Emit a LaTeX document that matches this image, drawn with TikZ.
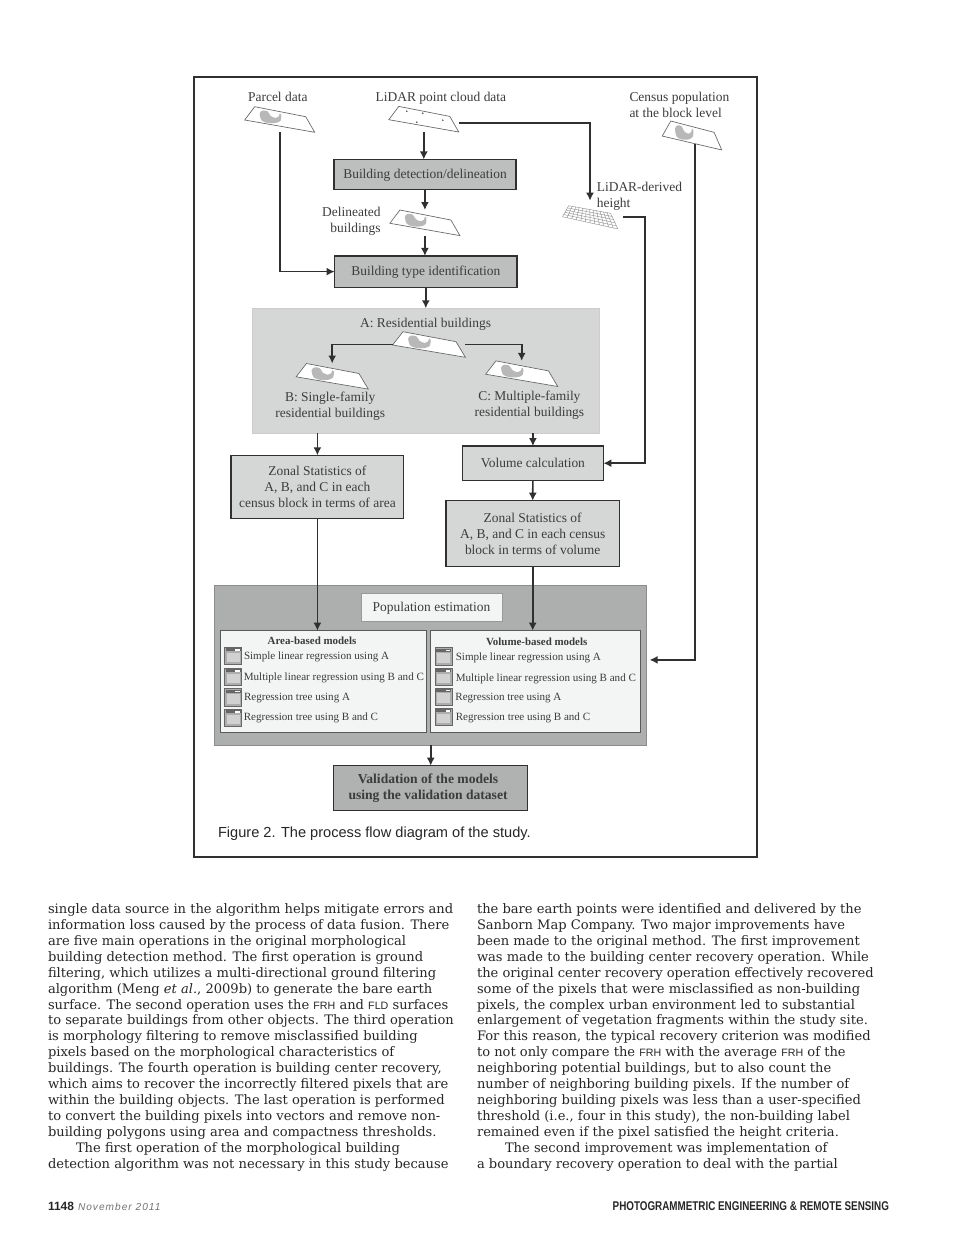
\documentclass[tikz,border=0pt]{standalone}
\usepackage{fontspec}
\setmainfont{Liberation Serif}
\newfontfamily\capfont{Liberation Sans}
\newfontfamily\datefont[LetterSpace=10]{Liberation Sans}
\newfontfamily\bodyfont{DejaVu Serif}
\usetikzlibrary{arrows.meta,calc}
\definecolor{inkgray}{HTML}{303030}
\definecolor{textgray}{HTML}{3C3C3C}
\definecolor{midbox}{HTML}{BDBFBF}
\definecolor{lightbox}{HTML}{D5D7D7}
\definecolor{darkpanel}{HTML}{ADAFAF}
\definecolor{palebox}{HTML}{F3F5F5}
\definecolor{valbox}{HTML}{B0B1B1}
\newcommand{\smallcp}[1]{{\fontsize{8}{12}\capfont #1}}
\newcommand{\sheetoutline}{\filldraw[fill=white, draw=black!60, line width=0.5pt] (-35,0.5) -- (-25,-12.8) -- (26,-2.8) -- (35,12.8) -- cycle;}
\begin{document}
\begin{tikzpicture}[x=0.75pt,y=-0.75pt]
    \tikzstyle{every node}=[inner sep=0pt, outer sep=0pt, text=textgray, font=\fontsize{10.1}{12}\selectfont, align=center]
    \tikzstyle{oneline}=[text height=8pt, text depth=2.1pt]
    \tikzstyle{procbox}=[rectangle, draw=inkgray, line width=1pt, fill=midbox]
    \tikzstyle{zonebox}=[procbox, fill=lightbox]
    \tikzstyle{modelbox}=[rectangle, draw=black!65, line width=0.8pt, fill=palebox]
    \tikzstyle{modeltext}=[anchor=west, yshift=-1pt, font=\fontsize{8.3}{10}\selectfont]
    \tikzstyle{edge}=[inkgray, line width=1.25pt, -{Latex[length=6pt,width=6pt]}]

    \fill[white] (0,0) rectangle (960,1245);
    \draw[inkgray, line width=1.1pt] (194,77) rectangle (757,857);

    % grey panels first
    \node[rectangle, fill=lightbox, draw=black!20, minimum width=260.5pt, minimum height=93.75pt] (respanel) at (426,370.8) {};
    \node[rectangle, fill=darkpanel, draw=black!45, minimum width=323.7pt, minimum height=119.7pt] (poppanel) at (430.2,665.5) {};

    % sheets
    \foreach \nm/\cx/\cy/\sx/\sy in {parcel/279.7/119.5/1/1, census/692/135.5/0.85/1.13,
            delin/424.9/222.8/1/1, resid/429/344.5/1.04/1, single/332.2/376.3/1.03/1, multi/521.7/373.7/1.03/1} {
        \node[minimum width=52.5pt*\sx, minimum height=19.2pt*\sy] (\nm) at (\cx,\cy) {};
        \begin{scope}[shift={(\cx,\cy)}, xscale=\sx, yscale=\sy]
            \sheetoutline
            \fill[black!28] plot[smooth cycle] coordinates {(-20,-6) (-17,-9) (-12,-8) (-9,-3.5) (-4,-1.5) (-1,-3) (0,-6) (1.5,-5) (1,1) (-4,3.5) (-12,3.5) (-18,1)};
        \end{scope}
    }
    % the point cloud sheet has dots, not a parcel
    \node[minimum width=52.5pt, minimum height=19.2pt] (lidar) at (423.8,119.2) {};
    \begin{scope}[shift={(lidar.center)}]
        \sheetoutline
        \foreach \dx/\dy in {-17/-8, -1/-6, -7/3, 19/1} \fill[black!80] (\dx,\dy) circle (0.6pt);
    \end{scope}

    % height raster
    \node[minimum width=41.5pt, minimum height=17.5pt] (raster) at (590,217) {};
    \coordinate (rasa) at (562.5,216.7);
    \coordinate (rasb) at (568.7,205.7);
    \coordinate (rasc) at (610.6,213.3);
    \coordinate (rasd) at (617.9,229);
    \foreach \t in {0,0.2,...,1.01} \draw[black!45, line width=0.3pt] ($(rasa)!\t!(rasb)$) -- ($(rasd)!\t!(rasc)$);
    \foreach \t in {0,0.0833,...,1.01} \draw[black!45, line width=0.3pt] ($(rasa)!\t!(rasd)$) -- ($(rasb)!\t!(rasc)$);

    % labels
    \node[oneline] (parcellab) at (277.8,98) {Parcel data};
    \node[oneline] (lidarlab) at (440.9,97.5) {LiDAR point cloud data};
    \node[anchor=west, align=left] (censuslab) at (629.5,105) {Census population\\at the block level};
    \node[anchor=west, align=left] (rasterlab) at (596.8,195.8) {LiDAR-derived\\height};
    \node[anchor=east, align=right] (delinlab) at (380.5,221) {Delineated\\buildings};
    \node[oneline] (residlab) at (425.6,323.3) {A: Residential buildings};
    \node (singlelab) at (330.2,405.8) {B: Single-family\\residential buildings};
    \node (multilab) at (529.4,405.2) {C: Multiple-family\\residential buildings};

    % process boxes
    \node[procbox, oneline, minimum width=136.5pt, minimum height=22.5pt] (detect) at (425,174.5) {Building detection/delineation};
    \node[procbox, oneline, minimum width=136.8pt, minimum height=23.5pt] (btype) at (425.8,271.6) {Building type identification};
    \node[zonebox, minimum width=129.6pt, minimum height=47.5pt] (zarea) at (317.4,487) {Zonal Statistics of\\A, B, and C in each\\census block in terms of area};
    \node[zonebox, oneline, minimum width=105.7pt, minimum height=25.7pt] (volcalc) at (532.9,463.2) {Volume calculation};
    \node[zonebox, minimum width=130pt, minimum height=49.2pt] (zvol) at (532.7,533.5) {Zonal Statistics of\\A, B, and C in each census\\block in terms of volume};
    \node[rectangle, oneline, draw=black!40, line width=0.6pt, fill=palebox, minimum width=105.8pt, minimum height=21pt] (popest) at (431.5,607.7) {Population estimation};
    \node[modelbox, minimum width=155pt, minimum height=76.2pt] (areamod) at (323.4,681.5) {};
    \node[modelbox, minimum width=157.4pt, minimum height=76.2pt] (volmod) at (535.6,681.5) {};
    \node[procbox, fill=valbox, minimum width=145.4pt, minimum height=33.75pt, font=\fontsize{10.2}{12.6}\selectfont\bfseries] (valid) at (430.7,788.2) {Validation of the models\hspace*{4pt}\\using the validation dataset\hspace*{4pt}};

    % model lists
    \node[font=\fontsize{8.2}{10}\selectfont\bfseries] (areahead) at (312,641) {Area-based models};
    \node[font=\fontsize{8.2}{10}\selectfont\bfseries] (volhead) at (536.7,641.7) {Volume-based models};
    \foreach \nm/\tx/\ty/\ix/\iy/\lab in {
            aone/244/656/233/656/Simple linear regression using A,
            atwo/243.8/676.7/233/677/Multiple linear regression using B and C,
            athree/244/696.3/233/697.5/Regression tree using A,
            afour/243.8/716.7/233/718/Regression tree using B and C,
            vone/455.8/656.7/443.5/656.5/Simple linear regression using A,
            vtwo/455.8/677.3/443.5/677/Multiple linear regression using B and C,
            vthree/455.4/697/443.5/696.7/Regression tree using A,
            vfour/455.8/716.7/443.5/717/Regression tree using B and C} {
        \node[modeltext] (\nm) at (\tx,\ty) {\lab};
        \filldraw[fill=black!32, draw=black!60, line width=0.7pt] (\ix-8.5,\iy-8.7) rectangle (\ix+8.5,\iy+8.7);
        \fill[black!60] (\ix-7.5,\iy-7.7) rectangle (\ix+7.5,\iy-4.7);
        \fill[white] (\ix+2,\iy-7) rectangle (\ix+6.5,\iy-5.5);
        \fill[black!18] (\ix-6.5,\iy-3.5) rectangle (\ix+6.5,\iy+6);
    }

    % connectors
    \coordinate (heightbend) at (644.8,300);
    \draw[edge] (parcel.south) |- (btype.west);
    \draw[edge] (lidar.south) -- (lidar.south |- detect.north);
    \draw[edge] ([yshift=-3pt]lidar.east) -| ([yshift=3.5pt]raster.north);
    \draw[edge] (detect.south -| delin.north) -- (delin.north);
    \draw[edge] (delin.south) -- (delin.south |- btype.north);
    \draw[edge] (btype.south) -- (btype.south |- respanel.north);
    \draw[edge] (resid.west) -| (single.north);
    \draw[edge] (resid.east) -| (multi.north);
    \draw[edge] (zarea.north |- respanel.south) -- (zarea.north);
    \draw[edge] (volcalc.north |- respanel.south) -- (volcalc.north);
    \draw[edge] (volcalc.south) -- (zvol.north);
    \draw[edge, shorten <=4pt] (raster.east) -- (raster.east -| heightbend) |- (volcalc.east);
    \draw[edge] (zarea.south) -- (areamod.north -| zarea.south);
    \draw[edge] (zvol.south) -- (volmod.north -| zvol.south);
    \draw[edge, shorten >=2.7pt] ([xshift=2pt,yshift=4.5pt]census.south) |- ([yshift=4.2pt]poppanel.east);
    \draw[edge] (poppanel.south -| valid.north) -- (valid.north);

    \node[anchor=west, font=\fontsize{10.95}{12}\capfont, text=black!85] (figcap) at (218,833.5) {Figure 2. The process flow diagram of the study.};

    % page text
    \node[anchor=north west, align=left, font=\fontsize{9.8}{11.95}\bodyfont, text=black!85] (leftcol) at (48,903.5) {%
        single data source in the algorithm helps mitigate errors and\\
        information loss caused by the process of data fusion. There\\
        are five main operations in the original morphological\\
        building detection method. The first operation is ground\\
        filtering, which utilizes a multi-directional ground filtering\\
        algorithm (Meng \textit{et al.}, 2009b) to generate the bare earth\\
        surface. The second operation uses the \smallcp{FRH} and \smallcp{FLD} surfaces\\
        to separate buildings from other objects. The third operation\\
        is morphology filtering to remove misclassified building\\
        pixels based on the morphological characteristics of\\
        buildings. The fourth operation is building center recovery,\\
        which aims to recover the incorrectly filtered pixels that are\\
        within the building objects. The last operation is performed\\
        to convert the building pixels into vectors and remove non-\\
        building polygons using area and compactness thresholds.\\
        \hspace*{21pt}The first operation of the morphological building\\
        detection algorithm was not necessary in this study because};
    \node[anchor=north west, align=left, font=\fontsize{9.8}{11.95}\bodyfont, text=black!85] (rightcol) at (477,903.5) {%
        the bare earth points were identified and delivered by the\\
        Sanborn Map Company. Two major improvements have\\
        been made to the original method. The first improvement\\
        was made to the building center recovery operation. While\\
        the original center recovery operation effectively recovered\\
        some of the pixels that were misclassified as non-building\\
        pixels, the complex urban environment led to substantial\\
        enlargement of vegetation fragments within the study site.\\
        For this reason, the typical recovery criterion was modified\\
        to not only compare the \smallcp{FRH} with the average \smallcp{FRH} of the\\
        neighboring potential buildings, but to also count the\\
        number of neighboring building pixels. If the number of\\
        neighboring building pixels was less than a user-specified\\
        threshold (i.e., four in this study), the non-building label\\
        remained even if the pixel satisfied the height criteria.\\
        \hspace*{21pt}The second improvement was implementation of\\
        a boundary recovery operation to deal with the partial};
    \node[anchor=west, font=\fontsize{9}{11}\capfont\bfseries, text=black!85] (pagenum) at (48,1206.5) {1148};
    \node[anchor=west, font=\fontsize{7.6}{11}\datefont\itshape, text=black!55] (pagedate) at (78,1206.5) {November 2011};
    \node[anchor=east, xscale=0.778, font=\fontsize{9.5}{11}\capfont\bfseries, text=black!85] (journal) at (889,1206.5) {PHOTOGRAMMETRIC ENGINEERING \& REMOTE SENSING};
\end{tikzpicture}
\end{document}
